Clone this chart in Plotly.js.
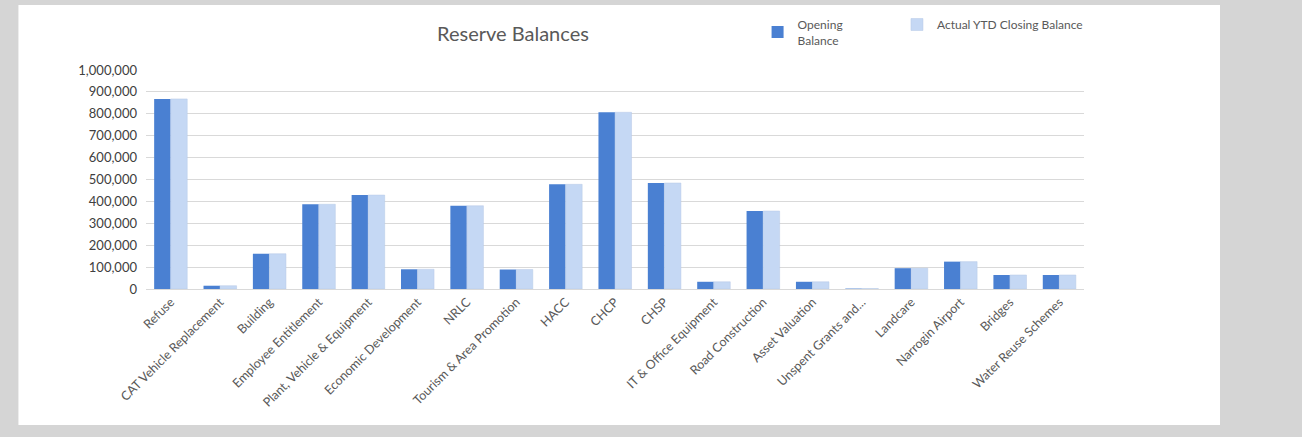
<!DOCTYPE html>
<html>
<head>
<meta charset="utf-8">
<script src="https://cdn.plot.ly/plotly-3.0.1.min.js"></script>
<style>
html,body{margin:0;padding:0;background:#d5d5d5;}
#chart{width:1302px;height:437px;}
</style>
</head>
<body>
<div id="chart"></div>
<script>
const categories = ["Refuse","CAT Vehicle Replacement","Building","Employee Entitlement","Plant, Vehicle & Equipment","Economic Development","NRLC","Tourism & Area Promotion","HACC","CHCP","CHSP","IT & Office Equipment","Road Construction","Asset Valuation","Unspent Grants and...","Landcare","Narrogin Airport","Bridges","Water Reuse Schemes"];
const openingBalance = [868000,15000,161000,387000,429000,90000,380000,89000,478000,807000,484000,33000,356000,33000,2000,95000,125000,64000,64000];
const closingBalance = [868000,15000,161000,387000,429000,90000,380000,89000,478000,807000,484000,33000,356000,33000,2000,95000,125000,64000,64000];
const yTicks = [0,100000,200000,300000,400000,500000,600000,700000,800000,900000,1000000];

const font = "Lato, 'Open Sans', sans-serif";
const traces = [
  {type:'bar', name:'Opening<br>Balance', x:categories, y:openingBalance, marker:{color:'#4a80d2'}, legend:'legend'},
  {type:'bar', name:'Actual YTD Closing Balance', x:categories, y:closingBalance, marker:{color:'#c5d8f4', line:{color:'#b7c9e6', width:0.5}}, legend:'legend2'}
];
const legendFont = {family:font, size:12, color:'#595959'};
const layout = {
  width:1302, height:437,
  paper_bgcolor:'rgba(0,0,0,0)', plot_bgcolor:'rgba(0,0,0,0)',
  margin:{l:146, r:218, t:70, b:148, autoexpand:false},
  barmode:'group', bargap:0.33, bargroupgap:0,
  font:{family:font, color:'#595959', size:12},
  title:{text:'Reserve Balances', x:0.394, xref:'container', xanchor:'center', y:0.922, yref:'container', yanchor:'middle', font:{family:font, size:20, color:'#595959'}},
  showlegend:true,
  legend:{orientation:'h', x:0.652, xanchor:'left', y:1.274, yanchor:'top', font:legendFont, bgcolor:'rgba(0,0,0,0)'},
  legend2:{orientation:'h', x:0.8006, xanchor:'left', y:1.274, yanchor:'top', font:legendFont, bgcolor:'rgba(0,0,0,0)'},
  xaxis:{tickangle:-45, tickfont:{family:font, size:12.5, color:'#595959'}, showline:true, linecolor:'#d9d9d9', ticks:'', showgrid:false},
  yaxis:{range:[0,1000000], tickvals:yTicks, tickformat:',.0f', tickfont:{family:font, size:13, color:'#404040'}, gridcolor:'#d9d9d9', zeroline:false, showline:false, ticks:'', ticklabelstandoff:8},
  shapes:[{type:'rect', xref:'paper', yref:'paper', x0:-0.136, x1:1.145, y0:-0.621, y1:1.297, fillcolor:'#ffffff', line:{width:0}, layer:'below'}]
};
Plotly.newPlot('chart', traces, layout, {displayModeBar:false, staticPlot:true});
</script>
</body>
</html>
